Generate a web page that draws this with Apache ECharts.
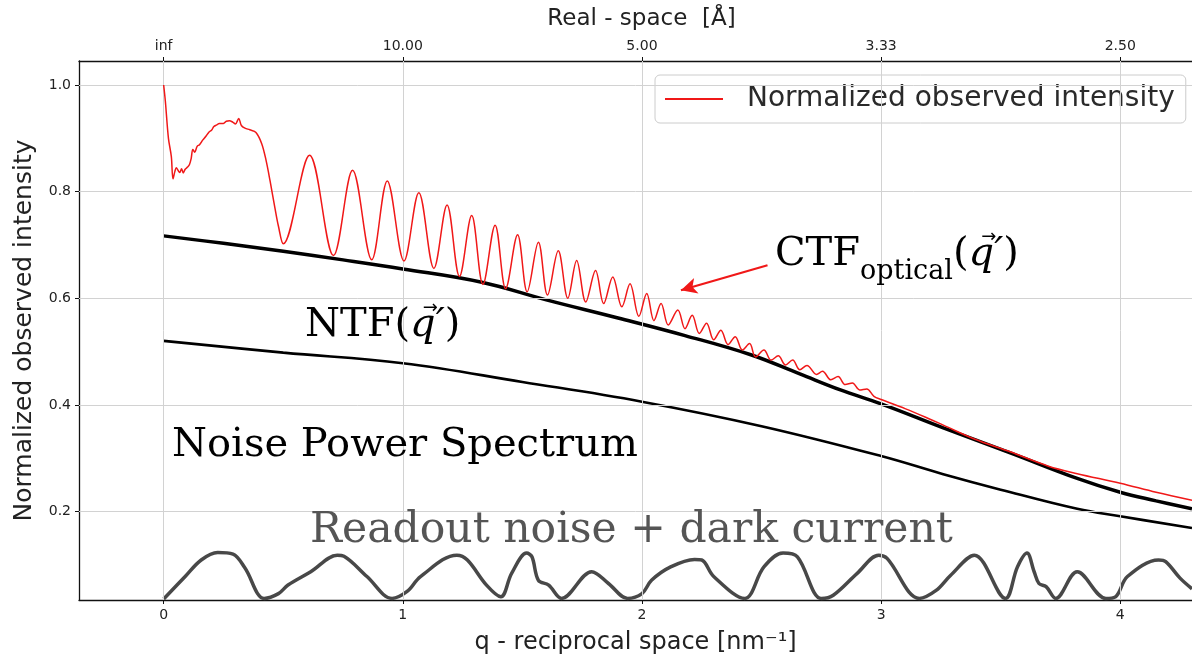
<!DOCTYPE html>
<html>
<head>
<meta charset="utf-8">
<script src="https://cdn.jsdelivr.net/npm/echarts@6/dist/echarts.min.js"></script>
<style>
  html, body { margin: 0; padding: 0; background: #fff; }
  #chart { width: 1192px; height: 660px; }
</style>
</head>
<body>
<div id="chart"></div>
<script>
// axis ranges and ticks
const xMin = -0.354
const xMax = 4.3
const yMin = 0.034
const yMax = 1.045
const qTicks = [0, 1, 2, 3, 4]
const realSpaceLabels = ['inf', '10.00', '5.00', '3.33', '2.50']
const yTicks = [0.2, 0.4, 0.6, 0.8, 1.0]

// normalized observed intensity (red)
const obsQ = [0, 0.007, 0.02, 0.032, 0.039, 0.047, 0.053, 0.06, 0.067, 0.075, 0.082, 0.09, 0.1, 0.108, 0.115,
  0.122, 0.13, 0.14, 0.15, 0.164, 0.175, 0.19, 0.2, 0.21, 0.222, 0.233, 0.25, 0.262, 0.275, 0.29, 0.3, 0.314,
  0.325, 0.34, 0.36, 0.386, 0.41, 0.428, 0.445, 0.465, 0.48, 0.50,
  0.61, 0.71, 0.79, 0.87, 0.935, 1.005, 1.067, 1.13, 1.185, 1.237, 1.288, 1.335, 1.386, 1.43, 1.48, 1.52,
  1.567, 1.605, 1.65, 1.69, 1.727, 1.765, 1.806, 1.84, 1.878, 1.916, 1.95, 1.987, 2.02, 2.05, 2.08, 2.11,
  2.15, 2.18, 2.21, 2.24, 2.27, 2.30, 2.33, 2.36, 2.39, 2.42, 2.45, 2.475, 2.51, 2.54, 2.57, 2.60, 2.63,
  2.66, 2.69, 2.73, 2.755, 2.79, 2.82, 2.85, 2.88, 2.91, 2.94, 2.97, 3.0,
  3.1, 3.2, 3.26, 3.39, 3.54, 3.7, 3.82, 4.0, 4.15, 4.3]
const obsI = [1.0, 0.97, 0.90, 0.866, 0.824, 0.838, 0.845, 0.84, 0.836, 0.843, 0.835, 0.842, 0.846, 0.851, 0.862,
  0.879, 0.874, 0.885, 0.888, 0.897, 0.903, 0.912, 0.915, 0.922, 0.925, 0.928, 0.928, 0.932, 0.933, 0.93, 0.927, 0.937,
  0.924, 0.919, 0.916, 0.911, 0.89, 0.859, 0.82, 0.77, 0.735, 0.702,
  0.868, 0.680, 0.840, 0.672, 0.820, 0.670, 0.798, 0.656, 0.775, 0.641, 0.755, 0.626, 0.737, 0.618, 0.719, 0.612,
  0.705, 0.606, 0.689, 0.600, 0.671, 0.593, 0.652, 0.590, 0.640, 0.584, 0.627, 0.566, 0.609, 0.558, 0.590, 0.550,
  0.578, 0.543, 0.568, 0.534, 0.553, 0.522, 0.540, 0.513, 0.528, 0.503, 0.515, 0.490, 0.503, 0.484, 0.492, 0.475, 0.484,
  0.466, 0.474, 0.457, 0.463, 0.447, 0.453, 0.438, 0.441, 0.428, 0.430, 0.416, 0.410,
  0.393, 0.374, 0.362, 0.336, 0.312, 0.285, 0.271, 0.253, 0.236, 0.221]

// NTF (upper black)
const ntfQ = [0, 0.25, 0.5, 0.75, 1.0, 1.33, 1.6, 1.9, 2.18, 2.455, 2.66, 2.83, 3.0, 3.26, 3.54, 3.82, 4.0, 4.15, 4.3]
const ntfV = [0.717, 0.703, 0.688, 0.672, 0.655, 0.630, 0.597, 0.563, 0.530, 0.494, 0.458, 0.428, 0.402, 0.357,
  0.310, 0.262, 0.236, 0.220, 0.205]

// noise power spectrum (lower black)
const npsQ = [0, 0.5, 1.0, 1.5, 2.0, 2.5, 3.0, 3.26, 3.5, 3.82, 4.0, 4.3]
const npsV = [0.520, 0.498, 0.478, 0.443, 0.406, 0.360, 0.304, 0.270, 0.241, 0.205, 0.191, 0.169]

// readout noise + dark current (grey)
const readQ = [0.0, 0.09, 0.157, 0.226, 0.29, 0.34, 0.42, 0.48, 0.52, 0.615, 0.726, 0.754, 0.85, 0.955, 1.018, 1.074,
  1.226, 1.27, 1.35, 1.41, 1.455, 1.518, 1.54, 1.567, 1.61, 1.664, 1.79, 1.86, 1.94, 2.0, 2.04, 2.12, 2.22, 2.25,
  2.30, 2.43, 2.51, 2.59, 2.65, 2.75, 2.80, 2.90, 2.99, 3.025, 3.16, 3.23, 3.29, 3.39, 3.52, 3.57, 3.61, 3.64,
  3.66, 3.69, 3.73, 3.82, 3.94, 3.98, 4.03, 4.16, 4.19, 4.25, 4.3]
const readV = [0.036, 0.078, 0.109, 0.123, 0.12, 0.094, 0.037, 0.046, 0.062, 0.087, 0.118, 0.116, 0.078, 0.037, 0.05, 0.078,
  0.118, 0.109, 0.062, 0.040, 0.084, 0.122, 0.115, 0.071, 0.062, 0.037, 0.087, 0.065, 0.037, 0.046, 0.071, 0.096, 0.11, 0.109,
  0.078, 0.037, 0.096, 0.122, 0.115, 0.037, 0.043, 0.084, 0.118, 0.112, 0.037, 0.052, 0.08, 0.118, 0.037, 0.096, 0.122, 0.087,
  0.065, 0.059, 0.037, 0.087, 0.037, 0.04, 0.078, 0.109, 0.106, 0.075, 0.055]

// arrow pointing at the CTF curve
const arrowFrom = [2.525, 0.662]
const arrowTo = [2.163, 0.615]

const zip = (xs, ys) => xs.map((x, i) => [x, ys[i]])

const chart = echarts.init(document.getElementById('chart'))

const sans = 'DejaVu Sans'
const serif = 'DejaVu Serif'
const mainFont = '40px "DejaVu Serif"'
const subFont = '27px "DejaVu Serif"'
const qFont = 'italic 40px "DejaVu Serif"'
const bigText = {
  m: { fontSize: 40, lineHeight: 44, fontFamily: serif, verticalAlign: 'top' },
  i: { fontSize: 40, lineHeight: 44, fontFamily: serif, fontStyle: 'italic', verticalAlign: 'top' },
  s: { fontSize: 27, lineHeight: 27, fontFamily: serif, padding: [23, 0, 0, 0], verticalAlign: 'top' }
}

// measure text so the vector arrow can sit over the q
const ctx = document.createElement('canvas').getContext('2d')
function measure(text, font) {
  ctx.font = font
  return ctx.measureText(text).width
}
function vecArrow(x, y) {
  return {
    type: 'text', x: x, y: y, z: 11,
    style: { text: '\u2192', font: '18px "DejaVu Sans"', fill: '#000', align: 'center', verticalAlign: 'middle' }
  }
}

const ctfX = 775, ctfY = 235
const ntfX = 305, ntfY = 306
const ctfQx = ctfX + measure('CTF', mainFont) + measure('optical', subFont) + measure('(', mainFont)
const ntfQx = ntfX + measure('NTF(', mainFont)
const qW = measure('q\u2032', qFont)

chart.setOption({
  animation: false,
  backgroundColor: '#ffffff',
  grid: { left: 79, right: -4, top: 61, bottom: 60 },
  legend: {
    data: ['Normalized observed intensity'],
    left: 655,
    top: 75,
    padding: [8, 11, 8, 10],
    icon: 'rect',
    itemWidth: 58,
    itemHeight: 2,
    borderColor: '#cccccc',
    borderWidth: 1,
    borderRadius: 5,
    backgroundColor: '#ffffff',
    textStyle: { fontSize: 28, fontFamily: sans, color: '#2a2a2a', padding: [0, 0, 0, 19], lineHeight: 32 }
  },
  xAxis: [
    {
      type: 'value',
      position: 'bottom',
      min: xMin,
      max: xMax,
      name: 'q - reciprocal space [nm\u207B\u00B9]',
      nameLocation: 'middle',
      nameGap: 31,
      nameTextStyle: { fontSize: 24, fontFamily: sans, color: '#222' },
      axisLine: { show: true, onZero: false, lineStyle: { color: '#111', width: 1.3 } },
      axisTick: { show: true, customValues: qTicks, length: 4, lineStyle: { color: '#111' } },
      axisLabel: { customValues: qTicks, fontSize: 14, fontFamily: sans, color: '#222', margin: 8 },
      splitLine: { show: false }
    },
    {
      type: 'value',
      position: 'top',
      min: xMin,
      max: xMax,
      name: 'Real - space  [\u00C5]',
      nameLocation: 'middle',
      nameGap: 30,
      nameTextStyle: { fontSize: 23, fontFamily: sans, color: '#222', padding: [0, 0, 0, 12] },
      axisLine: { show: true, onZero: false, lineStyle: { color: '#111', width: 1.3 } },
      axisTick: { show: true, customValues: qTicks, length: 4, lineStyle: { color: '#111' } },
      axisLabel: {
        customValues: qTicks,
        fontSize: 14, fontFamily: sans, color: '#222', margin: 8,
        formatter: v => realSpaceLabels[qTicks.indexOf(Math.round(v))]
      },
      splitLine: { show: false }
    }
  ],
  yAxis: {
    type: 'value',
    min: yMin,
    max: yMax,
    name: 'Normalized observed intensity',
    nameLocation: 'middle',
    nameGap: 42,
    nameTextStyle: { fontSize: 25, fontFamily: sans, color: '#222' },
    axisLine: { show: true, onZero: false, lineStyle: { color: '#111', width: 1.3 } },
    axisTick: { show: true, customValues: yTicks, length: 4, lineStyle: { color: '#111' } },
    axisLabel: { customValues: yTicks, fontSize: 14, fontFamily: sans, color: '#222', margin: 8, formatter: v => v.toFixed(1) },
    splitLine: { show: false }
  },
  series: [
    {
      // grid lines
      type: 'line',
      data: [],
      z: 1,
      silent: true,
      markLine: {
        silent: true,
        symbol: ['none', 'none'],
        label: { show: false },
        lineStyle: { color: '#d2d2d2', width: 1, type: 'solid' },
        emphasis: { disabled: true },
        data: [...qTicks.map(q => ({ xAxis: q })), ...yTicks.map(v => ({ yAxis: v }))]
      }
    },
    {
      name: 'Readout noise + dark current',
      type: 'line',
      data: zip(readQ, readV),
      smooth: 0.35,
      symbol: 'none',
      z: 3,
      lineStyle: { color: '#484848', width: 3.5 }
    },
    {
      name: 'Noise Power Spectrum',
      type: 'line',
      data: zip(npsQ, npsV),
      smooth: 0.4,
      symbol: 'none',
      z: 3,
      lineStyle: { color: '#000', width: 2.6 }
    },
    {
      name: 'NTF',
      type: 'line',
      data: zip(ntfQ, ntfV),
      smooth: 0.4,
      symbol: 'none',
      z: 4,
      lineStyle: { color: '#000', width: 3.5 }
    },
    {
      name: 'Normalized observed intensity',
      type: 'line',
      data: zip(obsQ, obsI),
      smooth: 0.35,
      symbol: 'none',
      z: 5,
      itemStyle: { color: '#f01818' },
      lineStyle: { color: '#f01818', width: 1.5 },
      markLine: {
        silent: true,
        symbol: ['none', 'arrow'],
        symbolSize: [12, 16],
        label: { show: false },
        lineStyle: { color: '#f01818', width: 2.2, type: 'solid' },
        data: [[{ coord: arrowFrom }, { coord: arrowTo }]]
      }
    }
  ],
  graphic: [
    {
      type: 'text', x: ctfX, y: ctfY, z: 10,
      style: { text: '{m|CTF}{s|optical}{m|(}{i|q\u2032}{m|)}', rich: bigText, fill: '#000', verticalAlign: 'top' }
    },
    vecArrow(ctfQx + qW / 2 + 3, ctfY + 2),
    {
      type: 'text', x: ntfX, y: ntfY, z: 10,
      style: { text: '{m|NTF(}{i|q\u2032}{m|)}', rich: bigText, fill: '#000', verticalAlign: 'top' }
    },
    vecArrow(ntfQx + qW / 2 + 3, ntfY + 2),
    {
      type: 'text', x: 172, y: 426, z: 10,
      style: { text: 'Noise Power Spectrum', font: mainFont, fill: '#000', verticalAlign: 'top' }
    },
    {
      type: 'text', x: 310, y: 509, z: 10,
      style: { text: 'Readout noise + dark current', font: '42.5px "DejaVu Serif"', fill: '#555', verticalAlign: 'top' }
    }
  ]
})
</script>
</body>
</html>
